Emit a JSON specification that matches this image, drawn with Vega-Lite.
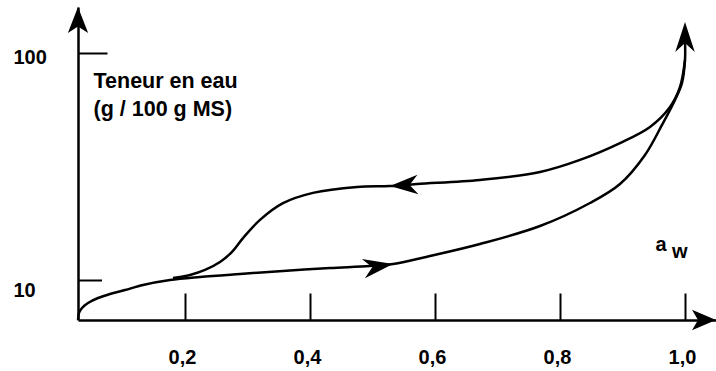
{
  "$schema": "https://vega.github.io/schema/vega-lite/v6.json",
  "width": 638,
  "height": 313,
  "autosize": {"type": "none"},
  "padding": {"left": 78, "top": 7, "right": 0, "bottom": 51},
  "background": "white",
  "config": {
    "view": {"stroke": null},
    "font": "Liberation Sans",
    "axis": {
      "grid": false,
      "domainColor": "black",
      "domainWidth": 2.5,
      "tickColor": "black",
      "tickWidth": 2,
      "labelColor": "black",
      "labelFont": "Liberation Sans",
      "labelFontWeight": "bold",
      "labelFontSize": 20,
      "titleColor": "black",
      "titleFont": "Liberation Sans",
      "titleFontWeight": "bold"
    }
  },
  "datasets": {
    "isotherm": [
      {"curve": "adsorption", "i": 0, "aw": 0.0288, "teneur": 6.67},
      {"curve": "adsorption", "i": 1, "aw": 0.0304, "teneur": 7.16},
      {"curve": "adsorption", "i": 2, "aw": 0.0352, "teneur": 7.53},
      {"curve": "adsorption", "i": 3, "aw": 0.0448, "teneur": 7.92},
      {"curve": "adsorption", "i": 4, "aw": 0.0608, "teneur": 8.33},
      {"curve": "adsorption", "i": 5, "aw": 0.08, "teneur": 8.68},
      {"curve": "adsorption", "i": 6, "aw": 0.104, "teneur": 9.03},
      {"curve": "adsorption", "i": 7, "aw": 0.1328, "teneur": 9.51},
      {"curve": "adsorption", "i": 8, "aw": 0.176, "teneur": 10.0},
      {"curve": "adsorption", "i": 9, "aw": 0.224, "teneur": 10.31},
      {"curve": "adsorption", "i": 10, "aw": 0.288, "teneur": 10.63},
      {"curve": "adsorption", "i": 11, "aw": 0.3568, "teneur": 10.96},
      {"curve": "adsorption", "i": 12, "aw": 0.432, "teneur": 11.29},
      {"curve": "adsorption", "i": 13, "aw": 0.496, "teneur": 11.53},
      {"curve": "adsorption", "i": 14, "aw": 0.5328, "teneur": 11.77},
      {"curve": "adsorption", "i": 15, "aw": 0.592, "teneur": 12.76},
      {"curve": "adsorption", "i": 16, "aw": 0.672, "teneur": 14.41},
      {"curve": "adsorption", "i": 17, "aw": 0.768, "teneur": 17.29},
      {"curve": "adsorption", "i": 18, "aw": 0.848, "teneur": 21.84},
      {"curve": "adsorption", "i": 19, "aw": 0.896, "teneur": 26.48},
      {"curve": "adsorption", "i": 20, "aw": 0.936, "teneur": 35.54},
      {"curve": "adsorption", "i": 21, "aw": 0.9632, "teneur": 48.18},
      {"curve": "adsorption", "i": 22, "aw": 0.984, "teneur": 62.1},
      {"curve": "adsorption", "i": 23, "aw": 0.9952, "teneur": 73.8},
      {"curve": "adsorption", "i": 24, "aw": 1.0, "teneur": 93.2},
      {"curve": "adsorption", "i": 25, "aw": 1.0, "teneur": 114},
      {"curve": "desorption", "i": 0, "aw": 1.0, "teneur": 93.2},
      {"curve": "desorption", "i": 1, "aw": 0.992, "teneur": 70.8},
      {"curve": "desorption", "i": 2, "aw": 0.976, "teneur": 57.8},
      {"curve": "desorption", "i": 3, "aw": 0.944, "teneur": 47.2},
      {"curve": "desorption", "i": 4, "aw": 0.896, "teneur": 40.1},
      {"curve": "desorption", "i": 5, "aw": 0.832, "teneur": 33.8},
      {"curve": "desorption", "i": 6, "aw": 0.768, "teneur": 29.9},
      {"curve": "desorption", "i": 7, "aw": 0.672, "teneur": 27.6},
      {"curve": "desorption", "i": 8, "aw": 0.5712, "teneur": 26.5},
      {"curve": "desorption", "i": 9, "aw": 0.528, "teneur": 25.95},
      {"curve": "desorption", "i": 10, "aw": 0.4752, "teneur": 25.7},
      {"curve": "desorption", "i": 11, "aw": 0.4048, "teneur": 24.2},
      {"curve": "desorption", "i": 12, "aw": 0.3568, "teneur": 21.8},
      {"curve": "desorption", "i": 13, "aw": 0.32, "teneur": 18.4},
      {"curve": "desorption", "i": 14, "aw": 0.2928, "teneur": 15.3},
      {"curve": "desorption", "i": 15, "aw": 0.2752, "teneur": 13.3},
      {"curve": "desorption", "i": 16, "aw": 0.256, "teneur": 12.0},
      {"curve": "desorption", "i": 17, "aw": 0.232, "teneur": 11.07},
      {"curve": "desorption", "i": 18, "aw": 0.208, "teneur": 10.52},
      {"curve": "desorption", "i": 19, "aw": 0.1808, "teneur": 10.2}
    ]
  },
  "layer": [
    {
      "data": {"name": "isotherm"},
      "mark": {"type": "line", "interpolate": "catmull-rom", "color": "black", "strokeWidth": 2.5},
      "encoding": {
        "x": {
          "field": "aw", "type": "quantitative",
          "scale": {"domain": [0.0288, 1.0496], "nice": false, "zero": false},
          "axis": {
            "orient": "bottom",
            "values": [0.2, 0.4, 0.6, 0.8, 1.0],
            "labelExpr": "replace(format(datum.value, '.1f'), '.', ',')",
            "tickSize": -27,
            "labelPadding": 70,
            "labelBaseline": "alphabetic",
            "labelOffset": -3,
            "title": "a",
            "titleFontSize": 20,
            "titleAlign": "left",
            "titleBaseline": "alphabetic",
            "titleX": 577,
            "titleY": -70
          }
        },
        "y": {
          "field": "teneur", "type": "quantitative",
          "scale": {"type": "log", "domain": [6.665, 159.4], "nice": false},
          "axis": {
            "orient": "left",
            "values": [10, 100],
            "format": "d",
            "tickSize": {"condition": {"test": "datum.value == 100", "value": -29}, "value": -23.5},
            "labelPadding": {"condition": {"test": "datum.value == 100", "value": 94}, "value": 88.5},
            "labelOffset": {"condition": {"test": "datum.value == 100", "value": 4.6}, "value": 10.2},
            "labelAlign": "left",
            "title": ["Teneur en eau", "(g / 100 g MS)"],
            "titleFontSize": 21.5,
            "titleAngle": 0,
            "titleAlign": "left",
            "titleBaseline": "alphabetic",
            "titleLineHeight": 28,
            "titleX": 15,
            "titleY": 80
          }
        },
        "detail": {"field": "curve"},
        "order": {"field": "i", "type": "quantitative"}
      }
    },
    {
      "data": {"values": [{}]},
      "mark": {"type": "text", "text": "w", "font": "Liberation Sans", "fontWeight": "bold", "fontSize": 20, "align": "left", "baseline": "alphabetic", "color": "black"},
      "encoding": {"x": {"datum": 0.9792}, "y": {"datum": 12.5}}
    },
    {
      "data": {"values": [{}]},
      "mark": {"type": "point", "shape": "M0,0 L0.78,2 L0,1.5 L-0.78,2 Z", "filled": true, "color": "black", "opacity": 1, "size": 676, "angle": 0},
      "encoding": {"x": {"datum": 0.0288}, "y": {"datum": 159.4}}
    },
    {
      "data": {"values": [{}]},
      "mark": {"type": "point", "shape": "M0,0 L0.85,2 L0,1.5 L-0.85,2 Z", "filled": true, "color": "black", "opacity": 1, "size": 576, "angle": 90},
      "encoding": {"x": {"datum": 1.0496}, "y": {"datum": 6.665}}
    },
    {
      "data": {"values": [{}]},
      "mark": {"type": "point", "shape": "M0,0 L0.65,2 L0,1.4 L-0.65,2 Z", "filled": true, "color": "black", "opacity": 1, "size": 900, "angle": 0},
      "encoding": {"x": {"datum": 1.0}, "y": {"datum": 137}}
    },
    {
      "data": {"values": [{}]},
      "mark": {"type": "point", "shape": "M0,0 L0.65,2 L0,1.4 L-0.65,2 Z", "filled": true, "color": "black", "opacity": 1, "size": 900, "angle": 81},
      "encoding": {"x": {"datum": 0.5328}, "y": {"datum": 11.77}}
    },
    {
      "data": {"values": [{}]},
      "mark": {"type": "point", "shape": "M0,0 L0.7,2 L0,1.4 L-0.7,2 Z", "filled": true, "color": "black", "opacity": 1, "size": 784, "angle": -93},
      "encoding": {"x": {"datum": 0.528}, "y": {"datum": 25.95}}
    }
  ]
}
